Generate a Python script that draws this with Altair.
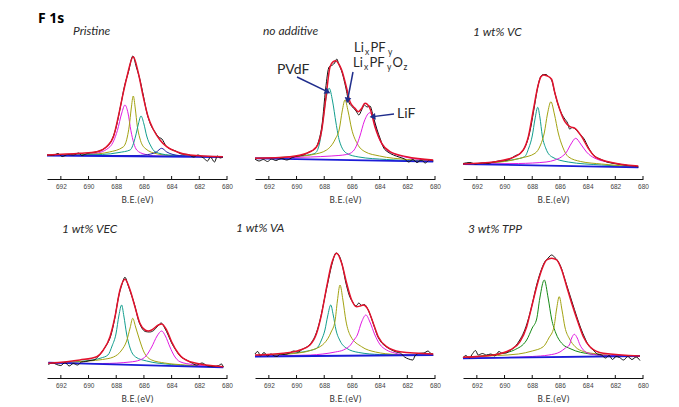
import math
import altair as alt
import pandas as pd

# ---------------- data (binding energy eV, intensity a.u.) ----------------
FIGURE_LABEL = "F 1s"
PANEL_TITLES = ["Pristine", "no additive", "1 wt% VC", "1 wt% VEC", "1 wt% VA", "3 wt% TPP"]
X_TICK_VALUES = [692, 690, 688, 686, 684, 682, 680]
X_TITLE = "B.E.(eV)"

# --- Pristine ---
PRISTINE_BASELINE = [(693, 23.5), (680.3, 22)]
PRISTINE_FIT = [(693, 24), (690.6, 25.7), (689.4, 27.3), (688.7, 32.3), (688.2, 42.3), (687.85, 62.3),
                (687.5, 85.7), (687.25, 100.7), (686.77, 122.3), (686.4, 105.7), (686.05, 82.3),
                (685.7, 62.3), (685.3, 49), (684.84, 39), (684.36, 32.3), (683.64, 27.3), (682.7, 24),
                (680.3, 22.3)]
PRISTINE_DATA = [(693, 24), (692.6, 23.5), (692.2, 25.5), (691.9, 22.5), (691.5, 24.5), (691.1, 24),
                 (690.7, 26), (690.5, 23.5), (690.1, 25.5), (689.6, 26.5), (689.2, 28), (688.8, 31),
                 (688.4, 37), (688.0, 52), (687.7, 72), (687.4, 93), (687.1, 108), (686.8, 123),
                 (686.55, 112), (686.3, 100), (686.05, 84), (685.8, 67), (685.5, 54), (685.2, 47),
                 (684.95, 42), (684.7, 40), (684.4, 33), (684.1, 30), (683.7, 28), (683.3, 25),
                 (682.8, 24.5), (682.4, 22), (682.1, 24), (681.7, 21), (681.4, 18), (681.2, 22),
                 (680.9, 17), (680.7, 23), (680.5, 21), (680.3, 22)]
PRISTINE_PEAK_A = [(693, 23.5), (690.6, 24), (689.5, 25.5), (688.45, 32.3), (687.92, 48.3), (687.6, 66),
                   (687.37, 74), (687.15, 66), (686.94, 48.3), (686.52, 29), (686.0, 25), (685.08, 23),
                   (680.3, 22.3)]
PRISTINE_PEAK_B = [(693, 23.5), (690, 24.5), (688.5, 27), (687.5, 32), (687.2, 42), (687.06, 53),
                   (686.92, 70), (686.77, 83), (686.62, 70), (686.48, 53), (686.3, 41), (685.92, 30.7),
                   (685, 25), (683.5, 23), (680.3, 22)]
PRISTINE_PEAK_C = [(693, 23.5), (689, 24.5), (687.8, 26.5), (687.0, 29), (686.6, 43), (686.4, 55),
                   (686.21, 63), (686.0, 55), (685.8, 43), (685.5, 33), (685.2, 27.3), (684.2, 24),
                   (680.3, 22)]
PRISTINE_PEAK_D = [(693, 23.5), (686.5, 23.5), (685.5, 25), (685.1, 27), (684.72, 30.7), (684.35, 27),
                   (683.9, 24.5), (683, 23), (680.3, 22)]

# --- no additive ---
NOADD_BASELINE = [(693, 20.7), (680.13, 17.3)]
NOADD_FIT = [(693, 20.7), (690.47, 22.3), (689.27, 25.7), (688.55, 32.3), (688.18, 49), (687.87, 82.3),
             (687.58, 112.3), (687.35, 117.3), (687.16, 118.3), (686.95, 115), (686.74, 109),
             (686.38, 90.7), (686.14, 77.3), (685.78, 70.7), (685.54, 67.3), (685.3, 70.5),
             (685.06, 75.7), (684.7, 70.7), (684.34, 52.3), (683.85, 35.7), (683.25, 27.3),
             (682.05, 22.3), (680.13, 19)]
NOADD_DATA = [(693, 20), (692.7, 18), (692.4, 19.5), (692.1, 17.5), (691.8, 20), (691.5, 18.5),
              (691.1, 20.5), (690.7, 19), (690.3, 21.5), (689.9, 23), (689.5, 24), (689.1, 27),
              (688.7, 30), (688.4, 38), (688.15, 55), (687.9, 90), (687.65, 112), (687.4, 114),
              (687.25, 116), (687.1, 120), (686.95, 115), (686.7, 106), (686.45, 92), (686.2, 76),
              (685.95, 72), (685.7, 68), (685.5, 64), (685.3, 69), (685.1, 74), (684.9, 72),
              (684.7, 73), (684.45, 62), (684.2, 50), (683.95, 40), (683.7, 31), (683.4, 27),
              (683, 24), (682.6, 22), (682.2, 20), (681.9, 17), (681.6, 19.5), (681.3, 16.5),
              (681, 19), (680.7, 16), (680.4, 19), (680.13, 18)]
NOADD_PEAK_PVDF = [(693, 20.7), (690.5, 22), (689.2, 24), (688.67, 25.7), (688.35, 35), (688.11, 56),
                   (687.9, 78), (687.64, 90.7), (687.4, 78), (687.15, 56), (686.9, 38), (686.38, 25.7),
                   (685.5, 22), (683.5, 19.5), (680.13, 18)]
NOADD_PEAK_LIPF = [(693, 20.7), (690, 22.5), (688.8, 24.5), (687.83, 29), (687.2, 40), (686.91, 50),
                   (686.7, 68), (686.5, 79), (686.28, 68), (686.02, 50), (685.6, 35), (685.06, 27.3),
                   (684, 23), (682, 19.5), (680.13, 18)]
NOADD_PEAK_LIF = [(693, 20.7), (689, 22), (687.5, 23), (686.38, 24.5), (685.9, 28), (685.65, 34),
                  (685.42, 43), (685.1, 58), (684.7, 66.3), (684.4, 58), (684.1, 43), (683.8, 34),
                  (683.49, 29), (682.9, 25), (682.29, 22.3), (680.13, 18.5)]

# --- 1 wt% VC ---
VC_BASELINE = [(693, 15), (680.34, 11.7)]
VC_FIT = [(693, 15), (690.69, 17.3), (689.25, 22.3), (688.65, 29), (688.28, 42.3), (687.92, 69),
          (687.6, 92.3), (687.37, 102.3), (687.15, 104), (686.96, 103.3), (686.6, 99.7), (686.36, 85.7),
          (686.0, 69), (685.64, 57.3), (685.27, 52.3), (684.91, 50.7), (684.43, 42.3), (683.95, 30.7),
          (683.47, 22.3), (682.51, 17.3), (680.34, 13)]
VC_DATA = [(693, 15.5), (692.5, 16.5), (692.1, 15), (691.6, 16), (691.2, 15.5), (690.8, 17), (690.4, 18),
           (690.0, 18.5), (689.6, 20), (689.2, 23.5), (688.9, 25), (688.6, 30), (688.35, 38), (688.1, 52),
           (687.85, 72), (687.6, 92), (687.4, 102), (687.2, 104.5), (687.0, 104.5), (686.8, 102),
           (686.6, 99), (686.4, 88), (686.15, 75), (685.9, 66), (685.65, 60), (685.45, 56), (685.3, 50),
           (685.1, 51.5), (684.9, 50), (684.7, 47), (684.5, 44), (684.25, 40), (684.0, 33),
           (683.75, 27), (683.5, 23), (683.1, 20), (682.6, 17), (682.1, 15.5), (681.6, 14.5),
           (681.1, 13.5), (680.6, 13), (680.34, 12)]
VC_PEAK_A = [(693, 15), (690.5, 17), (689.3, 19.5), (688.55, 22.3), (688.25, 31), (688.0, 43), (687.8, 60),
             (687.6, 71.7), (687.45, 62), (687.27, 43), (687.0, 30), (686.6, 22.3), (685.4, 17),
             (683, 14), (680.34, 12)]
VC_PEAK_B = [(693, 15), (690, 17.5), (688.8, 21), (687.8, 25.7), (687.4, 34), (687.13, 46), (686.9, 65),
             (686.65, 77.3), (686.4, 65), (686.12, 46), (685.8, 32), (685.4, 22.3), (684.5, 17.5),
             (683.0, 15), (680.34, 12)]
VC_PEAK_C = [(693, 15), (689.0, 15.5), (687.0, 17), (686.36, 19), (685.9, 22), (685.52, 27), (685.2, 35),
             (684.86, 40.7), (684.5, 35), (684.08, 27), (683.47, 20.7), (682.03, 15.7), (680.34, 12)]

# --- 1 wt% VEC ---
VEC_BASELINE = [(692.9, 15.3), (680.27, 10.7)]
VEC_FIT = [(692.9, 14.7), (690.62, 18), (689.41, 21.3), (688.93, 28), (688.45, 41.3), (688.09, 61.3),
           (687.73, 88), (687.37, 98.7), (687.0, 88), (686.65, 71.3), (686.29, 54.7), (685.92, 48),
           (685.68, 47), (685.44, 48), (684.96, 53), (684.72, 54), (684.36, 48), (684.0, 36.3),
           (683.52, 24.7), (682.68, 16.3), (680.27, 11.3)]
VEC_DATA = [(692.9, 13.5), (692.6, 15), (692.3, 13.5), (692.0, 12.5), (691.7, 15.5), (691.4, 12),
            (691.1, 14.5), (690.8, 13), (690.5, 16), (690.2, 16.5), (689.9, 17.5), (689.6, 18),
            (689.3, 21.5), (689.0, 27), (688.7, 33), (688.4, 42), (688.1, 60), (687.85, 80),
            (687.6, 93), (687.37, 100.7), (687.15, 93), (686.9, 83), (686.65, 72), (686.4, 58),
            (686.15, 50), (685.9, 46.5), (685.6, 46), (685.3, 47.5), (685.0, 52), (684.75, 55),
            (684.5, 50), (684.25, 43), (684.0, 35), (683.7, 28), (683.4, 22), (683.0, 18.5),
            (682.6, 15.5), (682.2, 13), (681.8, 15), (681.4, 12), (681.0, 11.5), (680.6, 12.5),
            (680.4, 14), (680.27, 11)]
VEC_PEAK_A = [(692.9, 15), (690.3, 17), (689.1, 20), (688.6, 23), (688.3, 32), (688.02, 44), (687.8, 63),
              (687.61, 73), (687.45, 62), (687.25, 44), (687.0, 30), (686.6, 21), (685.8, 17),
              (684, 13.5), (680.27, 11)]
VEC_PEAK_B = [(692.9, 15), (690, 17), (689, 18.5), (688.2, 21), (687.6, 28), (687.25, 37), (687.0, 50),
              (686.81, 59.7), (686.6, 51), (686.29, 37), (686.0, 26), (685.44, 18), (684.5, 15),
              (683, 13), (680.27, 11)]
VEC_PEAK_C = [(692.9, 15), (689.0, 14.5), (687.0, 16), (686.29, 18), (685.85, 22), (685.44, 31),
              (685.05, 42), (684.72, 47), (684.45, 42), (684.12, 31), (683.8, 22), (683.4, 16.3),
              (682.5, 13.5), (680.27, 11)]

# --- 1 wt% VA ---
VA_BASELINE = [(693, 21.5), (680.13, 23)]
VA_FIT = [(693, 23), (690.96, 24.7), (689.75, 28), (689.03, 33), (688.55, 44.7), (688.18, 64.7),
          (687.82, 91.3), (687.46, 114.7), (687.1, 124.7), (686.74, 114.7), (686.38, 94.7), (686.02, 78),
          (685.66, 71.3), (685.4, 72), (685.18, 73), (684.82, 68), (684.46, 54.7), (684.1, 41.3),
          (683.49, 31.3), (682.53, 26.3), (680.13, 24)]
VA_DATA = [(693, 24), (692.8, 26.5), (692.6, 22), (692.35, 25.5), (692.1, 22), (691.85, 24), (691.6, 22),
           (691.4, 21.5), (691.2, 24), (690.9, 23.5), (690.5, 25), (690.2, 27), (689.9, 26),
           (689.55, 29), (689.2, 31.5), (688.9, 36), (688.6, 44), (688.3, 58), (688.0, 78), (687.7, 98),
           (687.4, 116), (687.15, 125), (686.95, 123), (686.7, 113), (686.45, 96), (686.2, 83),
           (685.95, 76), (685.7, 72), (685.5, 75), (685.3, 72.5), (685.1, 73.5), (684.9, 70),
           (684.65, 62), (684.4, 52), (684.15, 42), (683.9, 36), (683.6, 32), (683.2, 28.5),
           (682.8, 26), (682.5, 25), (682.2, 21), (681.9, 19), (681.6, 18), (681.45, 22),
           (681.2, 24.5), (680.8, 25), (680.5, 27), (680.3, 24.5), (680.13, 24)]
VA_PEAK_A = [(693, 22), (690.5, 24.5), (689.2, 27), (688.55, 29.7), (688.2, 38), (687.95, 48), (687.75, 62),
             (687.53, 73), (687.35, 63), (687.15, 48), (686.85, 37), (686.38, 29.7), (685.5, 25.5),
             (684, 23.5), (680.13, 22.5)]
VA_PEAK_B = [(693, 22), (690.2, 24.5), (689.0, 27.5), (688.0, 34.7), (687.5, 46), (687.22, 57),
             (687.05, 77), (686.86, 93), (686.65, 78), (686.43, 57), (686.1, 42), (685.3, 31.3),
             (684.3, 26), (682.8, 23.5), (680.13, 22.5)]
VA_PEAK_C = [(693, 22), (689.0, 23), (688.1, 24), (687.2, 26), (686.62, 28), (686.1, 33), (685.85, 38),
             (685.61, 43), (685.3, 56), (684.99, 63), (684.7, 56), (684.34, 43), (684.0, 34),
             (683.5, 28), (682.9, 25), (682.2, 23), (680.13, 22.5)]

# --- 3 wt% TPP ---
TPP_BASELINE = [(693, 19.7), (680.22, 22)]
TPP_FIT = [(693, 20.7), (690.81, 23), (689.6, 28), (688.88, 36.3), (688.4, 51.3), (688.04, 71.3),
           (687.68, 91.3), (687.32, 108), (686.96, 118), (686.6, 119.7), (686.23, 118), (685.87, 108),
           (685.51, 91.3), (685.15, 74.7), (684.67, 54.7), (684.31, 41.3), (683.83, 31.3),
           (682.87, 24.7), (680.22, 22)]
TPP_DATA = [(693, 20), (692.8, 22.5), (692.55, 20), (692.3, 24.5), (692.1, 27.5), (691.9, 23),
            (691.6, 24.5), (691.3, 23), (691.0, 24), (690.7, 22), (690.4, 26.5), (690.2, 25),
            (689.9, 25), (689.6, 27.5), (689.2, 32), (688.9, 38), (688.6, 46), (688.3, 58), (688.0, 74),
            (687.7, 92), (687.4, 106), (687.1, 116), (686.85, 120), (686.6, 123), (686.4, 121),
            (686.15, 117), (685.9, 110), (685.65, 99), (685.4, 88), (685.1, 75), (684.8, 62),
            (684.5, 50), (684.2, 40), (683.9, 32), (683.6, 28), (683.3, 24), (683.0, 23), (682.7, 20),
            (682.45, 22.5), (682.2, 18.5), (681.95, 21.5), (681.7, 20.5), (681.4, 18), (681.1, 21.5),
            (680.8, 18.5), (680.5, 21), (680.22, 17.5)]
TPP_PEAK_A = [(693, 20.5), (691, 23), (690, 25), (689.3, 28), (688.4, 38), (688.0, 50), (687.68, 59),
              (687.45, 80), (687.13, 98), (686.85, 80), (686.6, 59), (686.3, 45), (685.87, 34.7),
              (685.2, 29), (683.83, 24), (682.5, 22.5), (680.22, 21.5)]
TPP_PEAK_B = [(693, 20.5), (690.5, 22.5), (689.0, 24), (688.0, 27), (687.2, 31.3), (686.8, 40),
              (686.43, 51), (686.25, 68), (686.05, 81.3), (685.85, 68), (685.64, 51), (685.3, 39),
              (684.9, 31.3), (684.3, 26.5), (683.3, 24), (681.5, 22), (680.22, 21.5)]
TPP_PEAK_C = [(693, 19.7), (690.0, 20.5), (688.0, 21.5), (686.8, 23), (686.0, 26), (685.6, 30),
              (685.32, 33), (685.15, 40), (684.96, 43.7), (684.75, 40), (684.55, 33), (684.3, 28),
              (684.07, 25.3), (683.2, 23), (680.22, 22)]

ANNOTATION_LABELS = ["PVdF", "LixPFy", "LixPFyOz", "LiF"]

# ---------------- styling ----------------
COLORS = {"magenta": "#e21be2", "olive": "#a3a312", "teal": "#129e8e", "navy": "#2222a6",
          "green": "#168a16", "fit": "#e3122c", "data": "#111111", "base": "#1c1cd8"}
ARROW_COLOR = "#1f2d8c"
TEXT_COLOR = "#2a2a2a"

PANELS = [
    dict(base=PRISTINE_BASELINE, fit=PRISTINE_FIT, data=PRISTINE_DATA,
         comps=[("magenta", PRISTINE_PEAK_A), ("olive", PRISTINE_PEAK_B), ("teal", PRISTINE_PEAK_C),
                ("navy", PRISTINE_PEAK_D)]),
    dict(base=NOADD_BASELINE, fit=NOADD_FIT, data=NOADD_DATA,
         comps=[("teal", NOADD_PEAK_PVDF), ("olive", NOADD_PEAK_LIPF), ("magenta", NOADD_PEAK_LIF)]),
    dict(base=VC_BASELINE, fit=VC_FIT, data=VC_DATA,
         comps=[("teal", VC_PEAK_A), ("olive", VC_PEAK_B), ("magenta", VC_PEAK_C)]),
    dict(base=VEC_BASELINE, fit=VEC_FIT, data=VEC_DATA,
         comps=[("teal", VEC_PEAK_A), ("olive", VEC_PEAK_B), ("magenta", VEC_PEAK_C)]),
    dict(base=VA_BASELINE, fit=VA_FIT, data=VA_DATA,
         comps=[("teal", VA_PEAK_A), ("olive", VA_PEAK_B), ("magenta", VA_PEAK_C)]),
    dict(base=TPP_BASELINE, fit=TPP_FIT, data=TPP_DATA,
         comps=[("green", TPP_PEAK_A), ("olive", TPP_PEAK_B), ("magenta", TPP_PEAK_C)]),
]
# title placement (px, relative to each plot area)
TITLE_POS = [(26, -4), (8, -4), (10, -3), (15, -5), (-19, -6), (5, -5)]

W, H = 180, 140
XS = alt.Scale(domain=[680, 693], reverse=True, nice=False, zero=False)
YS = alt.Scale(domain=[0, 140], nice=False, zero=True)
XAXIS = alt.Axis(values=X_TICK_VALUES, format="d", tickSize=0, grid=False, labelFlush=False,
                 labelFont="Liberation Sans", labelFontSize=6.5, labelColor="#444", labelPadding=4,
                 domainColor="#111", domainWidth=1, title=X_TITLE, titleFont="DejaVu Sans",
                 titleFontSize=8, titleFontWeight="normal", titleColor="#333", titlePadding=7)


def frame(points, curve, color, width):
    return pd.DataFrame({"eV": [p[0] for p in points], "I": [p[1] for p in points],
                         "seq": list(range(len(points))), "curve": curve,
                         "color": color, "sw": width})


def lines(df):
    return alt.Chart(df).mark_line(interpolate="monotone").encode(
        x=alt.X("eV:Q", scale=XS, axis=XAXIS),
        y=alt.Y("I:Q", scale=YS, axis=None),
        color=alt.Color("color:N", scale=None),
        strokeWidth=alt.StrokeWidth("sw:Q", scale=None),
        detail="curve:N",
        order=alt.Order("seq:Q"),
    )


ONE = pd.DataFrame({"k": [0]})


def text_at(txt, x, y, size, **kw):
    return alt.Chart(ONE).mark_text(text=txt, align="left", baseline="alphabetic", fontSize=size,
                                    color=kw.pop("color", TEXT_COLOR), **kw).encode(
        x=alt.value(x), y=alt.value(y))


def panel(i):
    spec = PANELS[i]
    comps = pd.concat([frame(pts, f"c{j}", COLORS[c], 1.0) for j, (c, pts) in enumerate(spec["comps"])])
    layers = [
        lines(comps),
        lines(frame(spec["base"], "base", COLORS["base"], 1.8)),
        lines(frame(spec["data"], "data", COLORS["data"], 1.0)),
        lines(frame(spec["fit"], "fit", COLORS["fit"], 1.5)),
        alt.Chart(pd.DataFrame({"t": X_TICK_VALUES})).mark_rule(color="#111", strokeWidth=1).encode(
            x=alt.X("t:Q", scale=XS, axis=XAXIS), y=alt.value(H), y2=alt.value(H - 3)),
    ]
    tx, ty = TITLE_POS[i]
    layers.append(text_at(PANEL_TITLES[i], tx, ty, 12, font="Lato", fontStyle="italic"))
    if i == 0:
        layers.append(text_at(FIGURE_LABEL, -9, -16, 14, font="Open Sans", fontWeight="bold",
                              color="#000"))
    if i == 1:
        f = "Lato"
        layers.append(text_at(ANNOTATION_LABELS[0], 22, 35, 14, font=f))
        # Li_x PF_y
        layers += [text_at("Li", 99, 13, 13, font=f), text_at("x", 110, 15.5, 8.5, font=f),
                   text_at("PF", 115.5, 13, 13, font=f), text_at("y", 133, 15.5, 8.5, font=f)]
        # Li_x PF_y O_z
        layers += [text_at("Li", 98, 28, 13, font=f), text_at("x", 109, 30.5, 8.5, font=f),
                   text_at("PF", 114.5, 28, 13, font=f), text_at("y", 132, 30.5, 8.5, font=f),
                   text_at("O", 137.5, 28, 13, font=f), text_at("z", 148.5, 30.5, 8.5, font=f)]
        layers.append(text_at(ANNOTATION_LABELS[3], 142, 79, 14, font=f))
        arrows = [((42, 38), (75, 54)), ((98, 33), (92, 64)), ((139, 75), (115, 78))]
        for (x1, y1), (x2, y2) in arrows:
            dx, dy = x2 - x1, y2 - y1
            L = math.hypot(dx, dy)
            ux, uy = dx / L, dy / L
            ang = math.degrees(math.atan2(dx, -dy)) % 360
            layers.append(alt.Chart(ONE).mark_rule(color=ARROW_COLOR, strokeWidth=1.5).encode(
                x=alt.value(x1), y=alt.value(y1), x2=alt.value(x2 - 3 * ux), y2=alt.value(y2 - 3 * uy)))
            layers.append(alt.Chart(ONE).mark_point(shape="triangle", filled=True, size=45, angle=ang,
                                                    color=ARROW_COLOR, opacity=1).encode(
                x=alt.value(x2 - 3.5 * ux), y=alt.value(y2 - 3.5 * uy)))
    return alt.layer(*layers).properties(width=W, height=H)


chart = alt.concat(*[panel(i) for i in range(6)], columns=3,
                   spacing=alt.RowColnumber(row=59, column=28), bounds="flush").properties(
    padding={"left": 30, "top": 4, "right": 5, "bottom": 0},
    background="white",
).configure_view(stroke=None)

chart.save("out.html", embed_options={"renderer": "svg", "actions": False})
